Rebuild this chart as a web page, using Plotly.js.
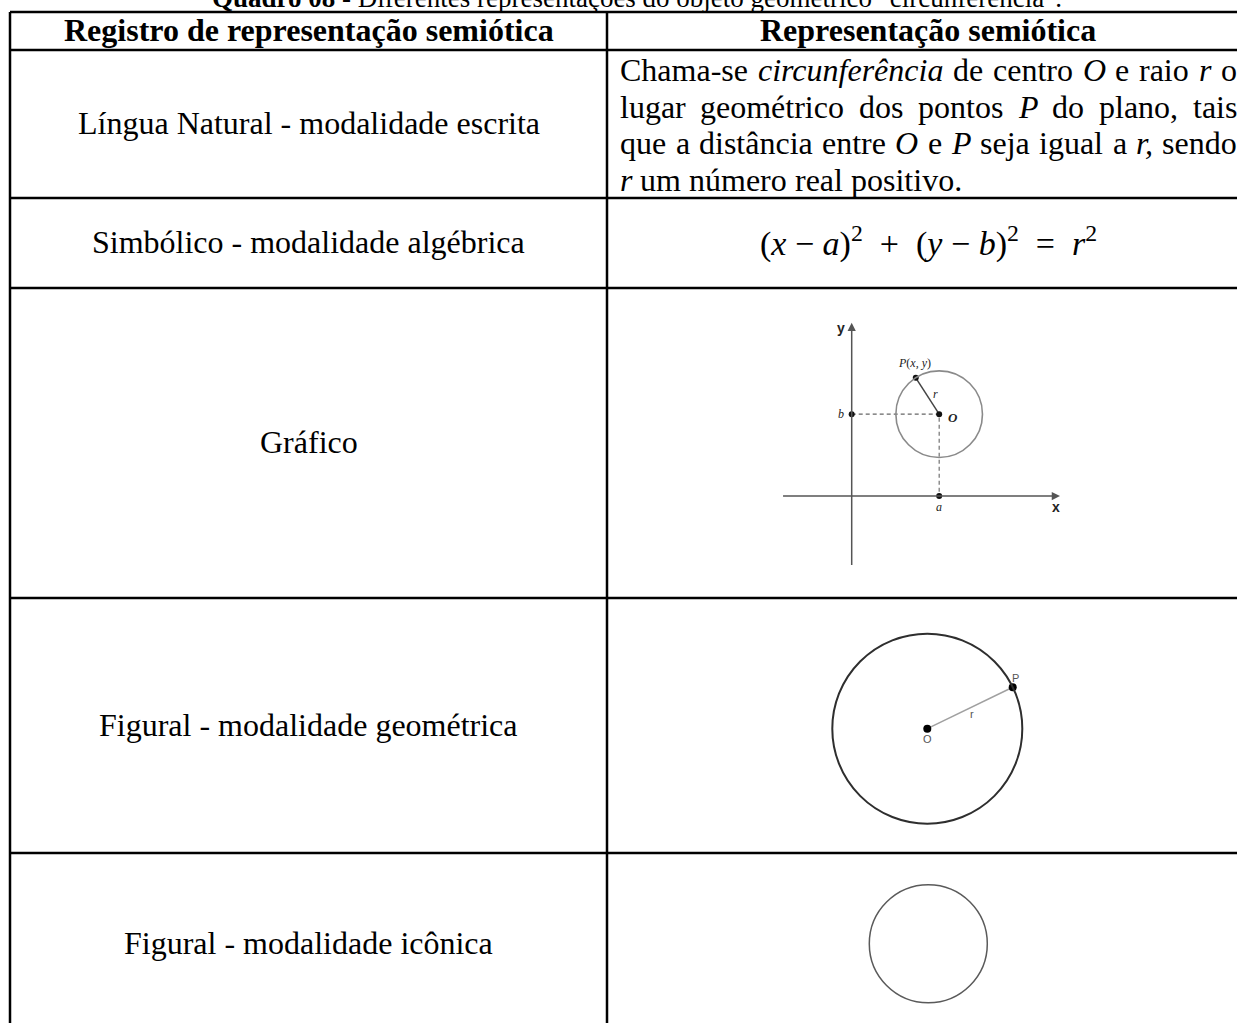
<!DOCTYPE html>
<html><head><meta charset="utf-8">
<script src="https://cdn.plot.ly/plotly-3.0.1.min.js"></script>
<style>html,body{margin:0;padding:0;background:#fff;}#chart{width:1237px;height:1023px;}</style>
</head><body><div id="chart"></div>
<script>
// ---------- content ----------
const tableTitle = '<b>Quadro 08</b> - Diferentes representações do objeto geométrico "circunferência".';
const columnHeaders = ['Registro de representação semiótica', 'Representação semiótica'];
const rowLabels = [
  'Língua Natural - modalidade escrita',
  'Simbólico - modalidade algébrica',
  'Gráfico',
  'Figural - modalidade geométrica',
  'Figural - modalidade icônica'
];
const definitionLines = [
  'Chama-se <i>circunferência</i> de centro <i>O</i> e raio <i>r</i> o',
  'lugar geométrico dos pontos <i>P</i> do plano, tais',
  'que a distância entre <i>O</i> e <i>P</i> seja igual a <i>r,</i> sendo',
  '<i>r</i> um número real positivo.'
];
const definitionJustified = [true, true, true, false];
const equationText = '(<i>x</i> − <i>a</i>)<sup>2</sup>  +  (<i>y</i> − <i>b</i>)<sup>2</sup>  =  <i>r</i><sup>2</sup>';

// ---------- "Gráfico" diagram values ----------
const graphA = 2.02;          // centre abscissa a
const graphB = 1.89;          // centre ordinate b
const graphR = 1.0;           // radius r
const graphPx = 1.48;         // point P
const graphPy = 2.73;
const graphXAxis = [-1.62, 4.81];
const graphYAxis = [-1.63, 4.0];
const graphLabelText = ['<i>P</i>(<i>x</i>, <i>y</i>)', '<i>r</i>', '<b><i>O</i></b>', '<i>b</i>', '<i>a</i>', '<b>x</b>', '<b>y</b>'];
const graphLabelX = [1.44, 1.94, 2.33, -0.25, 2.02, 4.72, -0.24];
const graphLabelY = [3.08, 2.35, 1.82, 1.90, -0.26, -0.25, 3.89];

// ---------- "Figural - geométrica" values ----------
const geoR = 1.0;
const geoPx = 0.899;
const geoPy = 0.436;
const geoLabelText = ['P', 'r', 'O'];
const geoLabelX = [0.93, 0.47, 0.0];
const geoLabelY = [0.53, 0.15, -0.11];

// ---------- "Figural - icônica" values ----------
const iconR = 1.0;

// ---------- layout helpers ----------
const W = 1237, H = 1023;
const SERIF = 'Liberation Serif, Times New Roman, serif';
const SANS = 'Liberation Sans, Arial, sans-serif';
const TABLE_LEFT = 10, TABLE_MID = 607, TABLE_RIGHT = 1249;
const ROW_LINES = [12, 50, 198, 288, 598, 853];
const TABLE_BOTTOM = 1070;
const LEFT_CX = (TABLE_LEFT + TABLE_MID) / 2;
const RIGHT_CX = (TABLE_MID + TABLE_RIGHT) / 2;
const ROW_TEXT_Y = [30, 123, 242, 442, 724.5, 942.5];
const TEXT_LEFT = 619, TEXT_RIGHT = 1236;
const LINE_Y0 = 70, LINE_STEP = 36.6;

function sub(px0, px1, py0, py1, ox, oy, s) {
  return {
    dx: [px0 / W, px1 / W], dy: [1 - py1 / H, 1 - py0 / H],
    rx: [(px0 - ox) / s, (px1 - ox) / s], ry: [(oy - py1) / s, (oy - py0) / s]
  };
}
const g = sub(772, 1072, 315, 580, 851.7, 496, 43.3);
const geo = sub(815, 1045, 615, 845, 927.3, 728.7, 95);
const ico = sub(855, 1002, 872, 1016, 928.3, 943.8, 59);

function ax(domain, range, anchor) {
  return {domain: domain, range: range, anchor: anchor, visible: false, fixedrange: true,
          showgrid: false, zeroline: false};
}

const ctx = document.createElement('canvas').getContext('2d');
function wordWidth(w) {
  let total = 0; const re = /<i>(.*?)<\/i>|([^<]+)/g; let m;
  while ((m = re.exec(w))) {
    if (m[1] !== undefined) { ctx.font = 'italic 32px "Liberation Serif"'; total += ctx.measureText(m[1]).width; }
    else { ctx.font = '32px "Liberation Serif"'; total += ctx.measureText(m[2]).width; }
  }
  return total;
}

function build() {
  const annotations = [];
  const shapes = [];
  const tf = {family: SERIF, size: 32, color: '#000'};

  // title (partly cut by the top edge, as in the reference)
  annotations.push({xref: 'x', yref: 'paper', x: 637, y: 1 + 2 / H, text: tableTitle, showarrow: false,
    xanchor: 'center', yanchor: 'middle', font: {family: SERIF, size: 27, color: '#000'}});

  // table lines
  ROW_LINES.forEach(yv => shapes.push({type: 'line', xref: 'x', yref: 'y', x0: TABLE_LEFT, x1: TABLE_RIGHT,
    y0: yv, y1: yv, line: {color: '#000', width: 2.5}}));
  [TABLE_LEFT, TABLE_MID, TABLE_RIGHT].forEach(xv => shapes.push({type: 'line', xref: 'x', yref: 'y',
    x0: xv, x1: xv, y0: ROW_LINES[0], y1: TABLE_BOTTOM, line: {color: '#000', width: 2.5}}));

  // headers
  annotations.push({xref: 'x', yref: 'y', x: LEFT_CX, y: ROW_TEXT_Y[0], text: '<b>' + columnHeaders[0] + '</b>',
    showarrow: false, font: tf});
  annotations.push({xref: 'x', yref: 'y', x: RIGHT_CX, y: ROW_TEXT_Y[0], text: '<b>' + columnHeaders[1] + '</b>',
    showarrow: false, font: tf});
  // row labels
  rowLabels.forEach((t, i) => annotations.push({xref: 'x', yref: 'y', x: LEFT_CX, y: ROW_TEXT_Y[i + 1], text: t,
    showarrow: false, font: tf}));

  // definition (justified, word by word)
  definitionLines.forEach((line, li) => {
    const words = line.split(' ');
    const widths = words.map(wordWidth);
    const sum = widths.reduce((a, b) => a + b, 0);
    const spaceW = wordWidth(' ');
    const gap = definitionJustified[li] ? (TEXT_RIGHT - TEXT_LEFT - sum) / (words.length - 1) : spaceW;
    let xpos = TEXT_LEFT;
    words.forEach((w, wi) => {
      annotations.push({xref: 'x', yref: 'y', x: xpos - 1, y: LINE_Y0 + li * LINE_STEP, text: w,
        showarrow: false, xanchor: 'left', yanchor: 'middle', font: tf});
      xpos += widths[wi] + gap;
    });
  });

  // equation
  annotations.push({xref: 'x', yref: 'y', x: RIGHT_CX, y: ROW_TEXT_Y[2] - 1, text: equationText,
    showarrow: false, font: {family: SERIF, size: 34, color: '#000'}});

  // ---- Gráfico diagram ----
  const axisCol = '#555';
  annotations.push({xref: 'x2', yref: 'y2', axref: 'x2', ayref: 'y2', x: graphXAxis[1], y: 0,
    ax: graphXAxis[0], ay: 0, text: '', showarrow: true, arrowhead: 2, arrowsize: 1.1, arrowwidth: 1.5,
    arrowcolor: axisCol, standoff: 0});
  annotations.push({xref: 'x2', yref: 'y2', axref: 'x2', ayref: 'y2', x: 0, y: graphYAxis[1],
    ax: 0, ay: graphYAxis[0], text: '', showarrow: true, arrowhead: 2, arrowsize: 1.1, arrowwidth: 1.5,
    arrowcolor: axisCol, standoff: 0});
  shapes.push({type: 'circle', xref: 'x2', yref: 'y2', x0: graphA - graphR, x1: graphA + graphR,
    y0: graphB - graphR, y1: graphB + graphR, line: {color: '#8a8a8a', width: 1.6}});
  graphLabelText.forEach((t, i) => {
    const isAxis = i >= 5;
    annotations.push({xref: 'x2', yref: 'y2', x: graphLabelX[i], y: graphLabelY[i], text: t, showarrow: false,
      font: {family: isAxis ? SANS : SERIF, size: isAxis ? 14 : (i === 2 ? 13 : 12), color: '#222'}});
  });

  // ---- geometric diagram ----
  shapes.push({type: 'circle', xref: 'x3', yref: 'y3', x0: -geoR, x1: geoR, y0: -geoR, y1: geoR,
    line: {color: '#2e2e2e', width: 2}});
  geoLabelText.forEach((t, i) => annotations.push({xref: 'x3', yref: 'y3', x: geoLabelX[i], y: geoLabelY[i],
    text: t, showarrow: false, font: {family: SANS, size: 11, color: '#555'}}));

  // ---- iconic diagram ----
  shapes.push({type: 'circle', xref: 'x4', yref: 'y4', x0: -iconR, x1: iconR, y0: -iconR, y1: iconR,
    line: {color: '#5a5a5a', width: 1.5}});

  const traces = [
    {x: [0, graphA, graphA], y: [graphB, graphB, 0], xaxis: 'x2', yaxis: 'y2', mode: 'lines',
     line: {color: '#666', width: 1.1, dash: '4px,3px'}, hoverinfo: 'skip'},
    {x: [graphA, graphPx], y: [graphB, graphPy], xaxis: 'x2', yaxis: 'y2', mode: 'lines',
     line: {color: '#444', width: 1.5}, hoverinfo: 'skip'},
    {x: [0, graphA, graphA, graphPx], y: [graphB, graphB, 0, graphPy], xaxis: 'x2', yaxis: 'y2', mode: 'markers',
     marker: {color: '#111', size: 6}, hoverinfo: 'skip'},
    {x: [0, geoPx], y: [0, geoPy], xaxis: 'x3', yaxis: 'y3', mode: 'lines',
     line: {color: '#a0a0a0', width: 1.5}, hoverinfo: 'skip'},
    {x: [0, geoPx], y: [0, geoPy], xaxis: 'x3', yaxis: 'y3', mode: 'markers',
     marker: {color: '#000', size: 8}, hoverinfo: 'skip'}
  ];

  const layout = {
    width: W, height: H, margin: {l: 0, r: 0, t: 0, b: 0, pad: 0},
    paper_bgcolor: '#fff', plot_bgcolor: 'rgba(0,0,0,0)', showlegend: false,
    xaxis: ax([0, 1], [0, W], 'y'), yaxis: ax([0, 1], [H, 0], 'x'),
    xaxis2: ax(g.dx, g.rx, 'y2'), yaxis2: ax(g.dy, g.ry, 'x2'),
    xaxis3: ax(geo.dx, geo.rx, 'y3'), yaxis3: ax(geo.dy, geo.ry, 'x3'),
    xaxis4: ax(ico.dx, ico.rx, 'y4'), yaxis4: ax(ico.dy, ico.ry, 'x4'),
    shapes: shapes, annotations: annotations
  };
  Plotly.newPlot('chart', traces, layout, {staticPlot: true, displayModeBar: false});
}

const fontLoads = document.fonts ? Promise.all([
  document.fonts.load('32px "Liberation Serif"'),
  document.fonts.load('italic 32px "Liberation Serif"')
]).catch(() => null) : Promise.resolve();
fontLoads.then(build, build);
</script></body></html>
